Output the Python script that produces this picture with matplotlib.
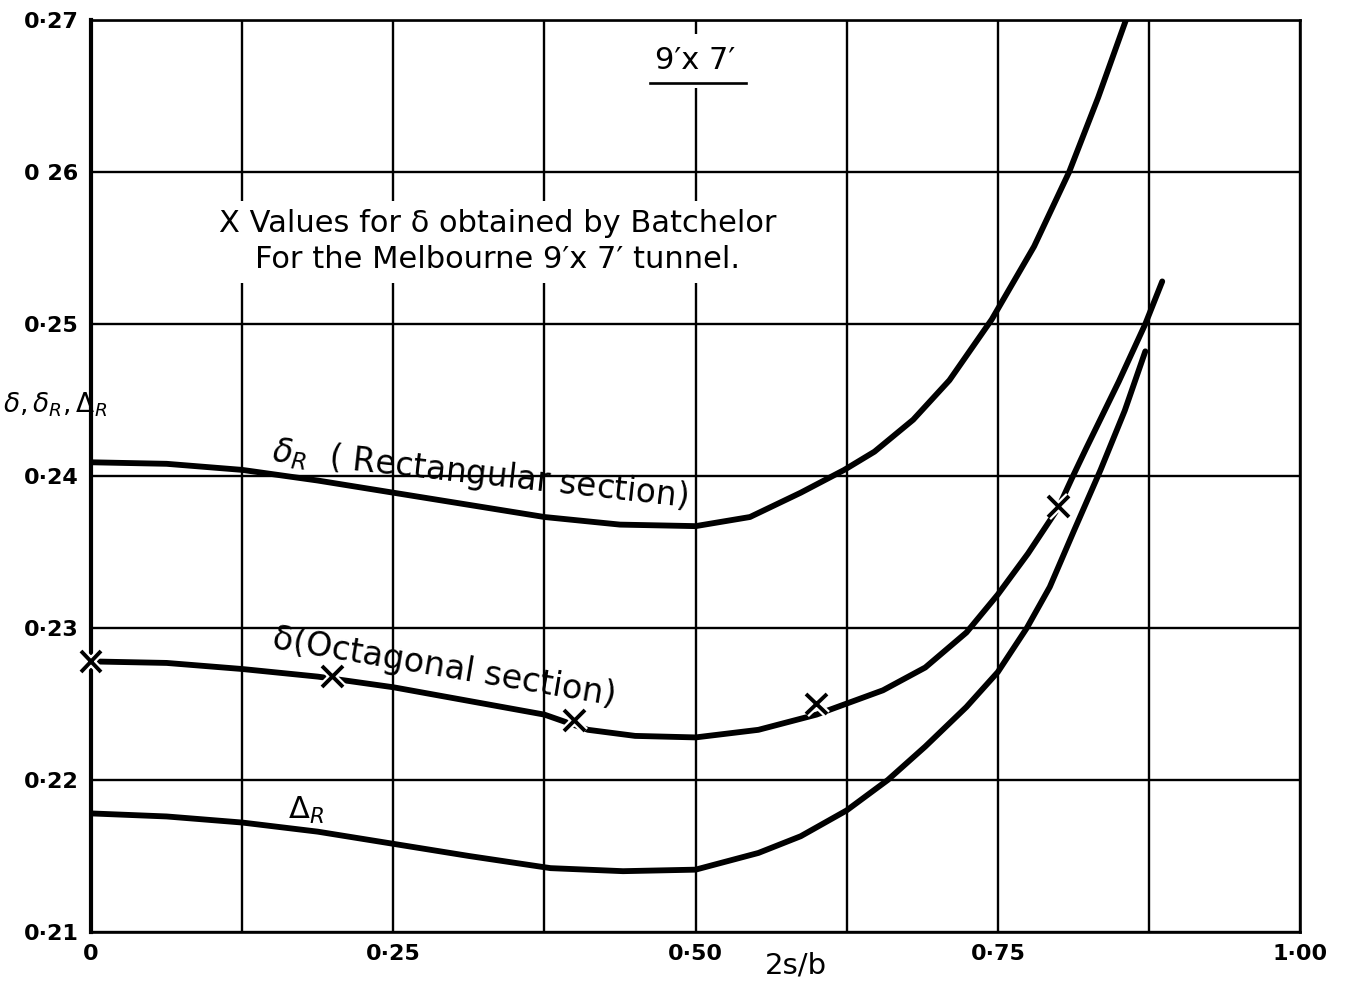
import matplotlib
matplotlib.use("Agg")
import matplotlib.pyplot as plt
import matplotlib.patheffects as pe
import numpy as np

# delta_R (rectangular section)
x_rect = [0, 0.0625, 0.125, 0.1875, 0.25, 0.3125, 0.375, 0.4375, 0.5, 0.545,
          0.587, 0.623, 0.648, 0.68, 0.71, 0.745, 0.78, 0.809, 0.833, 0.856]
y_rect = [0.2409, 0.2408, 0.2404, 0.2397, 0.2389, 0.2381, 0.2373, 0.2368, 0.2367, 0.2373,
          0.2389, 0.2404, 0.2416, 0.2437, 0.2463, 0.2503, 0.2551, 0.2600, 0.2649, 0.2700]

# delta (octagonal section)
x_oct = [0, 0.0625, 0.125, 0.1875, 0.25, 0.3125, 0.375, 0.411, 0.45, 0.5, 0.552,
         0.6, 0.655, 0.69, 0.724, 0.75, 0.775, 0.8, 0.811, 0.823, 0.85, 0.872, 0.886]
y_oct = [0.2278, 0.2277, 0.2273, 0.2268, 0.2261, 0.2252, 0.2243, 0.2233, 0.2229, 0.2228, 0.2233,
         0.2243, 0.2259, 0.2274, 0.2297, 0.2322, 0.2349, 0.2379, 0.2398, 0.2418, 0.2462, 0.2500, 0.2528]

# Delta_R
x_dr = [0, 0.0625, 0.125, 0.1875, 0.25, 0.3125, 0.38, 0.44, 0.5, 0.552, 0.587,
        0.625, 0.659, 0.69, 0.724, 0.75, 0.774, 0.793, 0.813, 0.835, 0.855, 0.872]
y_dr = [0.2178, 0.2176, 0.2172, 0.2166, 0.2158, 0.2150, 0.2142, 0.2140, 0.2141, 0.2152, 0.2163,
        0.2180, 0.2200, 0.2222, 0.2248, 0.2271, 0.2300, 0.2327, 0.2364, 0.2404, 0.2443, 0.2482]

# Batchelor values (crosses)
x_bat = [0, 0.2, 0.4, 0.6, 0.8]
y_bat = [0.2278, 0.2268, 0.2239, 0.2250, 0.2380]

xticks = [0, 0.25, 0.5, 0.75, 1.0]
xtick_labels = ['0', '0·25', '0·50', '0·75', '1·00']
yticks = [0.21, 0.22, 0.23, 0.24, 0.25, 0.26, 0.27]
ytick_labels = ['0·21', '0·22', '0·23', '0·24', '0·25', '0 26', '0·27']

fig = plt.figure(figsize=(13.51, 9.88), dpi=100)
ax = fig.add_axes([0.0674, 0.0567, 0.8949, 0.9231])

ax.set_xlim(0, 1.0)
ax.set_ylim(0.21, 0.27)
ax.set_xticks(xticks)
ax.set_xticklabels(xtick_labels, fontsize=16, fontweight='bold')
ax.set_xticks(np.arange(0.125, 1.0, 0.25), minor=True)
ax.set_yticks(yticks)
ax.set_yticklabels(ytick_labels, fontsize=16, fontweight='bold')
ax.tick_params(which='both', length=0, pad=9)
ax.grid(True, which='both', color='black', linewidth=1.7)
ax.set_axisbelow(True)
for s in ax.spines.values():
    s.set_linewidth(1.9)
ax.spines['left'].set_linewidth(3)

for xs, ys in [(x_rect, y_rect), (x_oct, y_oct), (x_dr, y_dr)]:
    ax.plot(xs, ys, color='black', linewidth=4.2, solid_capstyle='round', zorder=3)
ax.plot(x_bat, y_bat, linestyle='none', marker='x', markersize=15, markeredgewidth=2.8,
        color='black', zorder=4, clip_on=False,
        path_effects=[pe.Stroke(linewidth=6, foreground='white'), pe.Normal()])

tz = 2.4
ax.text(0.5, 0.2673, "9′x 7′", fontsize=22, ha='center', va='center', zorder=tz,
        bbox=dict(facecolor='white', edgecolor='none', pad=9))
ax.plot([0.462, 0.542], [0.26585, 0.26585], color='black', linewidth=1.9, zorder=tz + 0.05)
ax.text(0.336, 0.2554, "X Values for δ obtained by Batchelor\nFor the Melbourne 9′x 7′ tunnel.",
        fontsize=22, ha='center', va='center', linespacing=1.3, zorder=tz,
        bbox=dict(facecolor='white', edgecolor='none', pad=6))
ax.text(0.148, 0.2404, "$\\delta_R$  ( Rectangular section)", fontsize=23.5, ha='left', va='bottom',
        rotation=-6.3, rotation_mode='anchor', zorder=tz)
ax.text(0.148, 0.2282, "δ(Octagonal section)", fontsize=24, ha='left', va='bottom',
        rotation=-9.5, rotation_mode='anchor', zorder=tz)
ax.text(0.163, 0.2180, "$\\Delta_R$", fontsize=22, ha='left', va='center', zorder=tz)
ax.text(-0.0725, 0.2447, "$\\delta,\\delta_R,\\Delta_R$", fontsize=19, ha='left', va='center',
        zorder=tz, clip_on=False, bbox=dict(facecolor='white', edgecolor='none', pad=3))
ax.text(0.583, 0.2078, "2s/b", fontsize=21, ha='center', va='center', clip_on=False)

fig.savefig("out.png", dpi=100)
